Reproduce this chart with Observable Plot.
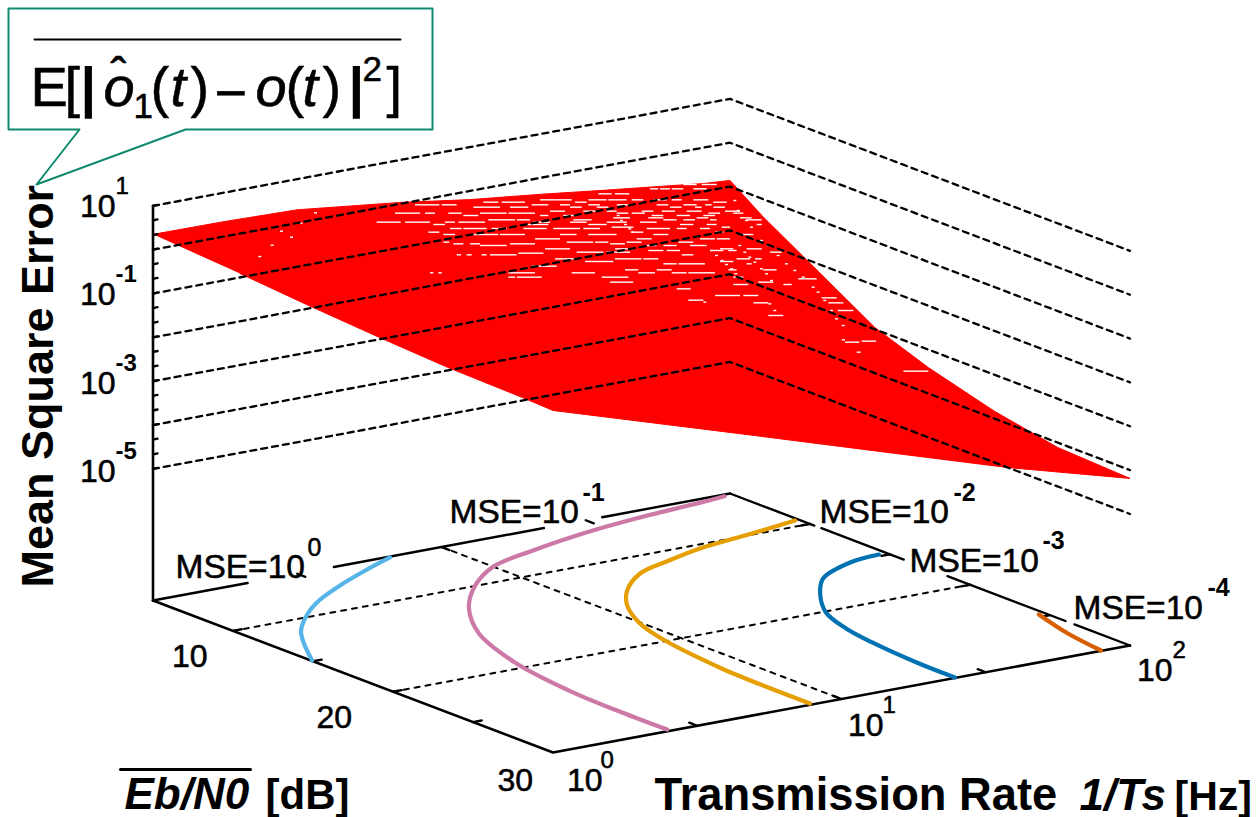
<!DOCTYPE html>
<html>
<head>
<meta charset="utf-8">
<script src="https://cdn.jsdelivr.net/npm/d3@7"></script>
<script src="https://cdn.jsdelivr.net/npm/@observablehq/plot@0.6"></script>
<style>html,body{margin:0;padding:0;background:#fff}svg{display:block;max-width:none}</style>
</head>
<body>
<div id="chart"></div>
<script>
// Axis values: R = log10(rate), E = Eb/N0 dB, Z = log10(MSE)
const zGrid = [1, 0, -1, -2, -3, -4, -5];
const zMinor = [1,.667,.333,0,-.333,-.667,-1,-1.333,-1.667,-2,-2.333,-2.667,-3,-3.333,-3.667,-4,-4.333,-4.667,-5];
const eTicks = [10, 15, 20, 25];
const rTicks = [0.5, 1, 1.5];
const eDashed = [10, 20];
const rDashed = [1];
// Surface outline walked round its four edges
const surfR = [0,.25,.5,.86,1.1,1.35,1.56,1.77,1.91,2, 2,2,2,2,2,2,2, 1.574,1.11,.648,0, 0,0,0,0,0];
const surfE = [5,5,5,5,5,5,5,5,5,5, 7.05,9.53,14.06,17.4,21.5,25.47,30, 30,30,30,30, 28.1,23.4,19.2,14.6,10.44];
const surfZ = [.35,.34,.3,.03,-.2,-.38,-.55,-.71,-.82,-.86, -1.4,-1.95,-2.96,-3.41,-3.83,-4.11,-4.19, -3.42,-2.47,-1.52,-.2, -.17,-.13,-.04,.08,.21];
// Contours on the floor
const c0R = [.816,.699,.528,.387,.281,.161,.088,.003];
const c0E = [5.1,5.89,7.17,8.4,9.61,11.35,12.85,14.89];
const c1R = [1.97,1.875,1.643,1.426,1.192,.992,.828,.687,.557,.463,.417,.406,.407];
const c1E = [5.2,5.4,5.8,6.36,7.26,8.3,10.14,12.36,15.33,19.27,23.48,26.99,29.8];
const c2R = [1.986,1.806,1.593,1.447,1.3,1.166,1.074,.993,.947,.919,.906,.9,.899];
const c2E = [9.32,9.87,10.46,11.16,12,13.61,15.27,17.53,19.92,22.62,24.48,26.9,29.85];
const c3R = [1.973,1.857,1.696,1.597,1.494,1.443,1.418,1.398,1.396];
const c3E = [14.8,15.09,16.3,17.9,20.12,22.3,24.38,27.67,29.95];
const c4R = [1.978,1.929,1.902];
const c4E = [24.7,27.4,29.96];
const contourColors = ["#56B4E9","#CC79A7","#E69F00","#0072B2","#D55E00"];
// Floor edges broken where a label sits
const backEdgeR = [[0,.328],[.627,1.355],[1.557,2]];
const rightEdgeE = [[5,10.27],[10.71,15.86],[18.59,25.97],[26.53,30]];
const speckRows = [
[72,850,890,905,950],[85,750,775,780,810,815,850,880,920],[100,595,635,645,688],
[118,420,470,470,515,565,620,625,680,695,730,760,800,815,845,880,925],
[125,250,295,305,375,525,560,940,980],
[133,45,118,125,170,395,445,480,510,565,600,650,690,770,805,850,890,915,935],
[140,220,300,330,385,510,545,590,625,810,845,885,905,940,975],
[152,450,495,550,590,620,650,725,760,785,825,860,905,975,1020],
[158,-15,60,75,105,145,185,240,320,325,405,650,685,695,735,925,960,1000,1030],
[165,190,235,420,445,490,530,755,790,830,870,910,945],
[172,640,690,745,790,890,925,1020,1055],
[178,265,345,350,390,520,575,790,830,850,885,930,950,1040,1085],
[185,-70,2,15,90,135,165,175,255,400,450,510,560,620,680,720,770],
[192,100,135,380,445,565,620,840,880,920,950,1070,1085],
[200,635,670,670,700,965,990],
[204,150,185,190,260,275,320,370,440,460,540,550,600,740,810,830,860,900,930],
[215,85,118,695,730,945,970],
[222,130,165,215,295,300,375,480,530,565,650,760,805,1020,1060],
[235,405,480,710,755,900,945,950,990],
[245,130,148,500,580,585,625,680,725,835,880],
[250,160,190,210,240,330,405,630,675],
[255,240,320,740,770,790,830,870,920],
[265,435,510,645,700,960,1000,1040,1085],
[270,745,790,800,840,930,970,985,1010],
[275,530,610,620,690,1110,1145],[278,355,430],
[283,170,183,200,215,245,260,270,350,845,880],
[295,465,490,490,530,645,725,730,775,1010,1050,1065,1085],
[303,555,640,960,1000],[310,790,830,835,915,1040,1055],[317,395,470],
[328,675,715,770,815,985,1010,1090,1130],
[337,90,100,115,125,325,405,515,585,715,765,815,860,865,945],
[350,325,345,350,425,605,685,1000,1030],
[355,1195,1250],[365,630,700,1075,1120],[372,1000,1045,1150,1175],[385,830,872],
[405,945,1020,1030,1075],[412,1265,1310],[419,865,910],[427,1060,1105,1285,1330],
[450,1313,1360],[465,1105,1150],[538,1325,1335],[545,1335,1378],[542,1385,1428],[575,1370,1382],[632,1510,1585]
];
const speckDots = [
[-258,157],[-302,188],[-360,212],[-330,230],[-388,254],[-425,288],
[650,165],[660,180],[672,192],[685,205],[692,215],
[930,270],[945,285],[962,300],[975,312],[990,325],[1003,340],
[1015,255],[1030,275],[1045,290],[1060,305],[1080,325],[1095,340],[1110,360],[1105,430],[1120,450],
[1000,120],[1010,150],[1035,180],[1050,200],[1080,240],[1100,255],[1130,285],[1155,310],[1180,330],[1205,350],
[1235,380],[1250,395],[1270,420],[1290,450],[1305,475],[1325,495],[910,425]
];

// Fixed oblique view of the 3D box
const px = (R, E) => 152.5 + R * 288.5 + (E - 5) * 16;
const py = (R, E, Z = -8) => 600 - R * 53.5 + (E - 5) * 6.08 - (Z + 8) * 43.85;
const P = (R, E, Z = -8, group = 0) => ({x: px(R, E), y: py(R, E, Z), group});

const wallGrid = zGrid.flatMap(z => [P(0,5,z,z), P(2,5,z,z), P(2,30,z,z)]);
const floorDash = [
  ...eDashed.flatMap(e => [P(0,e,-8,"e"+e), P(2,e,-8,"e"+e)]),
  ...rDashed.flatMap(r => [P(r,5,-8,"r"+r), P(r,30,-8,"r"+r)])
];
const floorSolid = [
  ...backEdgeR.flatMap(([a,b],i) => [P(a,5,-8,"b"+i), P(b,5,-8,"b"+i)]),
  ...rightEdgeE.flatMap(([a,b],i) => [P(2,a,-8,"r"+i), P(2,b,-8,"r"+i)])
];
const frontSolid = [P(0,5,-8,"a"), P(0,30,-8,"a"), P(2,30,-8,"a"), P(0,5,1,"z"), P(0,5,-8,"z")];
const tickSeg = [
  ...zMinor.flatMap((z,i) => { const a = P(0,5,z,"z"+i); return [a, {x:a.x+4.5, y:a.y-1, group:"z"+i}]; }),
  ...eTicks.flatMap(e => [P(0,e,-8,"ef"+e), P(.03,e,-8,"ef"+e), P(2,e,-8,"eb"+e), P(1.97,e,-8,"eb"+e)]),
  ...rTicks.flatMap(r => [P(r,30,-8,"rf"+r), P(r,29.5,-8,"rf"+r), P(r,5,-8,"rb"+r), P(r,5.5,-8,"rb"+r)])
];
const surface = surfR.map((r,i) => P(r, surfE[i], surfZ[i]));
const contours = [[c0R,c0E],[c1R,c1E],[c2R,c2E],[c3R,c3E],[c4R,c4E]].map(([rs,es]) => rs.map((r,i) => P(r, es[i])));
const cx = v => 400 + v/3, cy = v => 160 + v/3;
const specks = speckRows.flatMap(([row,...xs]) => d3.range(0, xs.length, 2).map(i => ({y: cy(row), x1: cx(xs[i]), x2: cx(xs[i+1])})));
const dots = speckDots.map(([a,b]) => ({y: cy(b), x1: cx(a), x2: cx(a) + 3}));

const FONT = "Liberation Sans, Arial, sans-serif";
const T = (text, x, y, fontSize, o = {}) => Plot.text([text], {
  text: d => d, x: () => x, y: () => y, fontSize, fontFamily: FONT, textAnchor: "start",
  lineAnchor: "bottom", fill: "black",
  ...(o.fontWeight === "bold" ? {} : {stroke: "black", strokeWidth: 0.55}),
  ...o
});
const supOpts = e => e.startsWith("-") ? {fontWeight: "bold"} : {};
const pow = (base, exp, x, y, sx, sy, fs, ss) => [T(base, x, y, fs), T(exp, sx, sy, ss, supOpts(exp))];

const callout = [[8,8],[432,8],[432,129],[185,129],[36,184],[79,129],[8,129],[8,8]].map(([x,y]) => ({x,y}));

const marks = [
  Plot.line(surface, {x:"x", y:"y", fill:"#ff0000", stroke:"#ff0000", strokeWidth:1}),
  Plot.ruleY(specks, {y:"y", x1:"x1", x2:"x2", stroke:"white", strokeWidth:1.4}),
  Plot.ruleY(dots, {y:"y", x1:"x1", x2:"x2", stroke:"white", strokeWidth:1.4}),
  Plot.line(wallGrid, {x:"x", y:"y", z:"group", stroke:"black", strokeWidth:2.3, strokeDasharray:"6 5"}),
  Plot.line(floorDash, {x:"x", y:"y", z:"group", stroke:"black", strokeWidth:2, strokeDasharray:"5 6"}),
  Plot.line(floorSolid, {x:"x", y:"y", z:"group", stroke:"black", strokeWidth:2.4}),
  Plot.line(frontSolid, {x:"x", y:"y", z:"group", stroke:"black", strokeWidth:2.6}),
  Plot.line(tickSeg, {x:"x", y:"y", z:"group", stroke:"black", strokeWidth:2.4}),
  ...contours.map((c,i) => Plot.line(c, {x:"x", y:"y", stroke:contourColors[i], strokeWidth:4.2, curve:"catmull-rom"})),

  // z tick labels
  ...pow("10","1", 79.5,216, 115,193, 32,24),
  ...pow("10","-1", 79.5,304.5, 115,281, 32,24),
  ...pow("10","-3", 79.5,393, 115,370, 32,24),
  ...pow("10","-5", 79.5,481, 115,458, 32,24),
  // Eb/N0 tick labels
  T("10", 171.5,666, 32), T("20", 316,727, 32), T("30", 497,790, 32),
  // rate tick labels
  ...pow("10","0", 566.5,790, 600,767, 32,24),
  ...pow("10","1", 847.5,735, 882,712, 32,24),
  ...pow("10","2", 1136.5,680, 1172,657, 32,24),
  // contour labels
  ...pow("MSE=10","0", 175,577, 307,555, 33.5,25),
  ...pow("MSE=10","-1", 449,522, 582,500, 33.5,25),
  ...pow("MSE=10","-2", 819,522, 953,500, 33.5,25),
  ...pow("MSE=10","-3", 909,571, 1042,548, 33.5,25),
  ...pow("MSE=10","-4", 1073,618, 1207,595, 33.5,25),
  // axis titles
  T("Mean Square Error", 52,587, 45, {fontWeight:"bold", rotate:-90}),
  T("Transmission Rate", 654,809, 45.3, {fontWeight:"bold"}),
  T("1/Ts", 1079,809, 44, {fontWeight:"bold", fontStyle:"italic"}),
  T("[Hz]", 1174,809, 41, {fontWeight:"bold"}),
  T("Eb/N0", 124,808, 44, {fontWeight:"bold", fontStyle:"italic"}),
  T("[dB]", 265,808, 42, {fontWeight:"bold"}),
  Plot.line([{x:120,y:769},{x:250,y:769}], {x:"x", y:"y", stroke:"black", strokeWidth:3}),

  // callout
  Plot.line(callout, {x:"x", y:"y", fill:"white", stroke:"#0F8A6E", strokeWidth:2}),
  Plot.line([{x:34,y:39},{x:400,y:39}], {x:"x", y:"y", stroke:"black", strokeWidth:2}),
  T("E", 30,105, 56),
  T("[", 64,105, 56),
  T("|", 80,105, 56, {fontWeight:"bold"}),
  T("o", 103,105, 56, {fontStyle:"italic"}),
  T("ˆ", 110,90, 48),
  T("1", 133,117, 35),
  T("(", 150,105, 56),
  T("t", 170,105, 56, {fontStyle:"italic"}),
  T(")", 190,105, 56),
  T("−", 214,111, 56),
  T("o", 255,105, 56, {fontStyle:"italic"}),
  T("(", 285,105, 56),
  T("t", 302,105, 56, {fontStyle:"italic"}),
  T(")", 322,105, 56),
  T("|", 348,105, 56, {fontWeight:"bold"}),
  T("2", 362,80, 35),
  T("]", 386,105, 56)
];

const chart = Plot.plot({
  width: 1257, height: 817, margin: 0,
  x: {domain: [0, 1257], range: [0, 1257], axis: null},
  y: {domain: [0, 817], range: [0, 817], axis: null},
  marks
});
document.getElementById("chart").append(chart);
</script>
</body>
</html>
